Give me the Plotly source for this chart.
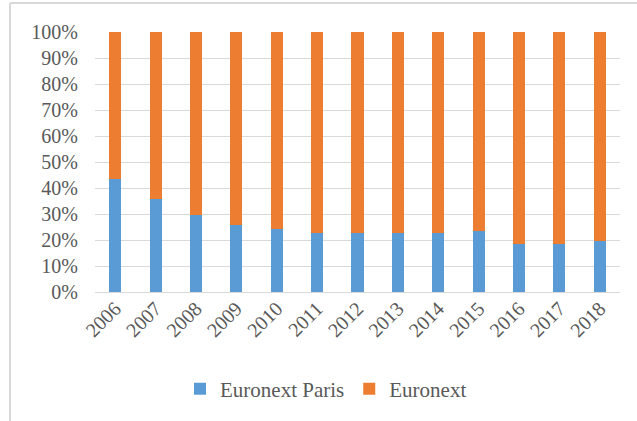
import plotly.graph_objects as go

years = ["2006", "2007", "2008", "2009", "2010", "2011", "2012",
         "2013", "2014", "2015", "2016", "2017", "2018"]
paris = [43.3, 35.8, 29.5, 25.9, 24.3, 22.6, 22.6, 22.6, 22.6, 23.5, 18.5, 18.5, 19.5]
euronext = [56.7, 64.2, 70.5, 74.1, 75.7, 77.4, 77.4, 77.4, 77.4, 76.5, 81.5, 81.5, 80.5]
y_ticks = [0, 10, 20, 30, 40, 50, 60, 70, 80, 90, 100]
y_labels = [f"{v}%" for v in y_ticks]

W, H = 637, 421
ml, mr, mt, mb = 95, 17, 32, 129
pw, ph = W - ml - mr, H - mt - mb

font = "Liberation Serif, Times New Roman, serif"
gray = "#595959"
grid = "#d9d9d9"

fig = go.Figure()
fig.add_trace(go.Bar(x=years, y=paris, name="Euronext Paris",
                     marker=dict(color="#5b9bd5", line=dict(width=0))))
fig.add_trace(go.Bar(x=years, y=euronext, name="Euronext",
                     marker=dict(color="#ed7d31", line=dict(width=0))))

fig.update_layout(
    width=W, height=H,
    margin=dict(l=ml, r=mr, t=mt, b=mb, pad=0),
    barmode="stack",
    bargap=0.7,
    plot_bgcolor="white",
    paper_bgcolor="white",
    font=dict(family=font, size=20, color=gray),
    showlegend=True,
    legend=dict(orientation="h", x=(326 - ml) / pw, xanchor="center",
                y=-(389 - (mt + ph)) / ph, yanchor="middle",
                font=dict(family=font, size=21, color=gray),
                itemwidth=30, traceorder="normal"),
    xaxis=dict(tickangle=-45, showgrid=False, showline=False, ticks="",
               tickfont=dict(family=font, size=20, color=gray)),
    yaxis=dict(range=[0, 100], tickvals=y_ticks, ticktext=y_labels,
               showgrid=True, gridcolor=grid, gridwidth=1,
               zeroline=True, zerolinecolor=grid, zerolinewidth=1,
               showline=False, ticks="", ticklabelstandoff=16,
               tickfont=dict(family=font, size=20, color=gray)),
    shapes=[
        dict(type="line", xref="paper", yref="paper",
             x0=(10 - ml) / pw, x1=(10 - ml) / pw,
             y0=1 + (mt - 3) / ph, y1=-(H - mt - ph) / ph - 0.01,
             line=dict(color=grid, width=2)),
        dict(type="line", xref="paper", yref="paper",
             x0=(10 - ml) / pw, x1=(W - ml) / pw + 0.01,
             y0=1 + (mt - 3) / ph, y1=1 + (mt - 3) / ph,
             line=dict(color=grid, width=2)),
    ],
)

fig.write_html("out.html")
